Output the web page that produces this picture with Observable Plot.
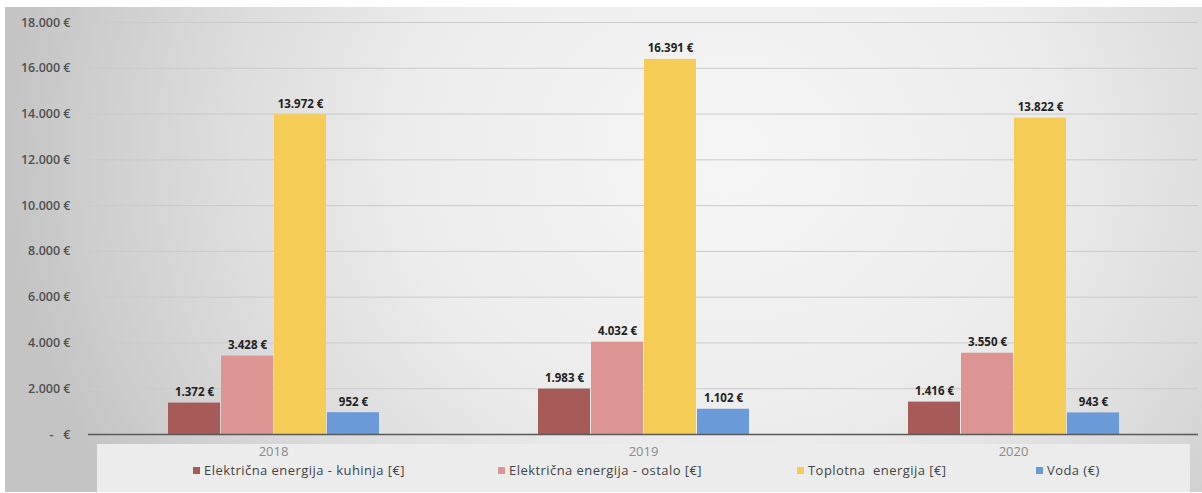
<!DOCTYPE html>
<html>
<head>
<meta charset="utf-8">
<script src="https://cdn.jsdelivr.net/npm/d3@7"></script>
<script src="https://cdn.jsdelivr.net/npm/@observablehq/plot@0.6"></script>
<style>
  html, body { margin: 0; padding: 0; background: #fff; }
  #frame {
    position: relative;
    margin: 7px 0 0 5px;
    width: 1197px;
    height: 485px;
    background: radial-gradient(ellipse 720px 620px at 720px 150px, #f6f6f6 0%, #ececec 45%, #d9d9d9 75%, #c4c4c4 100%);
    font-family: "Open Sans", "DejaVu Sans", sans-serif;
    overflow: hidden;
  }
  #legendbox {
    position: absolute;
    left: 92px;
    top: 437px;
    width: 1093px;
    height: 50px;
    background: #ececec;
  }
  #legend {
    position: absolute;
    left: 188px;
    top: 454px;
    display: grid;
    grid-template-columns: 305px 299px 239px 120px;
    font-size: 13px;
    color: #444;
    letter-spacing: 0.45px;
  }
  #legend .item { display: flex; align-items: center; white-space: pre; }
  #legend .sw { width: 7px; height: 7px; margin-right: 4px; }
  #chart { position: absolute; left: -5px; top: -7px; }
</style>
</head>
<body>
<div id="frame">
  <div id="legendbox"></div>
  <div id="chart"></div>
  <div id="legend"></div>
</div>
<script>
// Annual energy and water costs per category
const years = ["2018", "2019", "2020"];
const seriesNames = [
  "Električna energija - kuhinja [€]",
  "Električna energija - ostalo [€]",
  "Toplotna  energija [€]",
  "Voda (€)"
];
const seriesColors = ["#a65b58", "#dc9593", "#f5cd56", "#6a9ad8"];
const kuhinja = [1372, 1983, 1416];
const ostalo = [3428, 4032, 3550];
const toplotna = [13972, 16391, 13822];
const voda = [952, 1102, 943];
const yTicks = [0, 2000, 4000, 6000, 8000, 10000, 12000, 14000, 16000, 18000];

const valueSets = [kuhinja, ostalo, toplotna, voda];
const rows = [];
years.forEach((year, i) => {
  seriesNames.forEach((name, j) => {
    rows.push({year, series: name, value: valueSets[j][i]});
  });
});

const hr = d3.formatLocale({decimal: ",", thousands: ".", grouping: [3], currency: ["", " €"]});
const fmtNum = hr.format(",d");
const euro = v => v === 0 ? "-\u00a0\u00a0\u00a0€" : fmtNum(v) + " €";

const chart = Plot.plot({
  width: 1202,
  height: 493,
  marginTop: 22,
  marginBottom: 59,
  marginLeft: 88,
  marginRight: 4,
  style: {background: "transparent", fontFamily: "Open Sans, DejaVu Sans, sans-serif"},
  fx: {domain: years, padding: 0, label: null, axis: "bottom", tickSize: 0, tickPadding: 12},
  x: {domain: seriesNames, paddingInner: 0.02, paddingOuter: 1.5, axis: null},
  y: {domain: [0, 18000], ticks: yTicks, label: null, tickSize: 0, tickPadding: 18, tickFormat: euro, grid: false},
  color: {domain: seriesNames, range: seriesColors},
  marks: [
    Plot.ruleY(yTicks.filter(t => t > 0), {stroke: "#cbcbcb", strokeWidth: 1, strokeOpacity: 1}),
    Plot.barY(rows, {fx: "year", x: "series", y: "value", fill: "series"}),
    Plot.text(rows, {
      fx: "year", x: "series", y: "value",
      text: d => euro(d.value),
      lineAnchor: "bottom", dy: -7,
      fontSize: 11.5, fontWeight: "bold", fill: "#222"
    }),
    Plot.ruleY([0], {stroke: "#5a5a5a", strokeWidth: 1.5})
  ]
});

// axis text styling
d3.select(chart).selectAll("[aria-label='y-axis tick label'] text")
  .attr("fill", "#505050").style("font-size", "12.5px").style("font-weight", "600");
d3.select(chart).selectAll("[aria-label='fx-axis tick label'] text")
  .attr("fill", "#8a8a8a").style("font-size", "13px");

document.getElementById("chart").appendChild(chart);

const legend = d3.select("#legend");
seriesNames.forEach((name, i) => {
  const item = legend.append("div").attr("class", "item");
  item.append("div").attr("class", "sw").style("background", seriesColors[i]);
  item.append("span").text(name);
});
</script>
</body>
</html>
